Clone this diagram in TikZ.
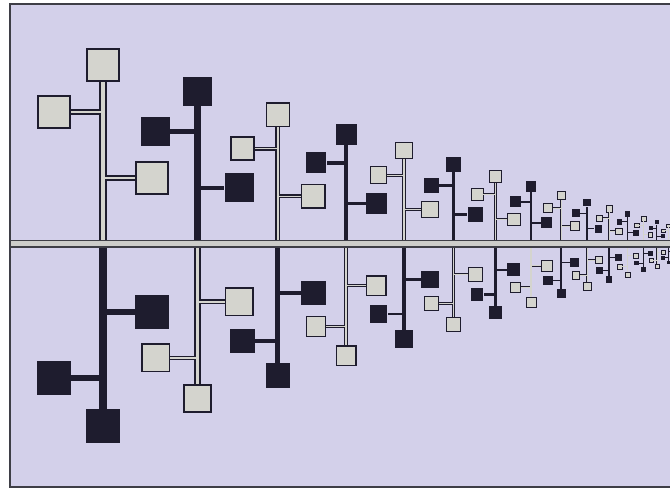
\documentclass[tikz,border=0pt]{standalone}
\usetikzlibrary{calc}
\definecolor{bgc}{RGB}{211,208,234}
\definecolor{lite}{RGB}{212,212,206}
\definecolor{dark}{RGB}{30,28,46}
\definecolor{framec}{RGB}{62,62,70}
\definecolor{axin}{RGB}{205,205,202}
\tikzset{
  lsq/.style={draw=dark, fill=lite, inner sep=0pt},
  dsq/.style={fill=dark, inner sep=0pt},
}
\newcommand{\halftree}[8]{%
  \pgfmathsetmacro{\yT}{244+#4*#5*#3}%
  \pgfmathsetmacro{\yL}{244+#4*#6*#3}%
  \pgfmathsetmacro{\yR}{244+#4*#7*#3}%
  \pgfmathsetmacro{\xL}{#2-49*#3}%
  \pgfmathsetmacro{\xR}{#2+49*#3}%
  \pgfmathsetmacro{\sql}{32*#3}%
  \pgfmathsetmacro{\sqd}{34*#3}%
  \pgfmathsetmacro{\olw}{max(2*#3,0.3)}%
  \pgfmathsetmacro{\stw}{7.2*#3}%
  \pgfmathsetmacro{\stin}{3.4*#3}%
  \pgfmathsetmacro{\brw}{5.5*#3}%
  \pgfmathsetmacro{\brin}{2.1*#3}%
  \coordinate (#1b) at (#2,244);
  \coordinate (#1lj) at (#2,\yL);
  \coordinate (#1rj) at (#2,\yR);
  \ifnum#8=0\relax
    \node[lsq, line width=\olw pt, minimum size=\sql pt] (#1T) at (#2,\yT) {};
    \node[lsq, line width=\olw pt, minimum size=\sql pt] (#1L) at (\xL,\yL) {};
    \node[lsq, line width=\olw pt, minimum size=\sql pt] (#1R) at (\xR,\yR) {};
    \draw[dark, line width=\stw pt] (#1b) -- (#1T);
    \draw[dark, line width=\brw pt] (#1lj) -- (#1L);
    \draw[dark, line width=\brw pt] (#1rj) -- (#1R);
    \draw[lite, line width=\stin pt] (#1b) -- (#1T);
    \draw[lite, line width=\brin pt] (#1lj) -- (#1L);
    \draw[lite, line width=\brin pt] (#1rj) -- (#1R);
  \else
    \node[dsq, minimum size=\sqd pt] (#1T) at (#2,\yT) {};
    \node[dsq, minimum size=\sqd pt] (#1L) at (\xL,\yL) {};
    \node[dsq, minimum size=\sqd pt] (#1R) at (\xR,\yR) {};
    \draw[dark, line width=\stw pt] (#1b) -- (#1T);
    \draw[dark, line width=\brw pt] (#1lj) -- (#1L);
    \draw[dark, line width=\brw pt] (#1rj) -- (#1R);
  \fi
}
\begin{document}
\begin{tikzpicture}[x=1pt,y=-1pt]
\useasboundingbox (0,0) rectangle (670,489);
\fill[white] (0,0) rectangle (670,489);
\fill[bgc] (10,4) rectangle (680,487);
\begin{scope}
\clip (10,4) rectangle (670,487);
\foreach \n in {1,...,18}{
  \pgfmathsetmacro{\s}{0.85^(\n-1)}
  \pgfmathsetmacro{\X}{103+630*(1-\s)}
  \ifodd\n\relax \def\ku{0}\def\kd{1}\else \def\ku{1}\def\kd{0}\fi
  \halftree{u\n}{\X}{\s}{-1}{179}{132}{66}{\ku}
  \halftree{d\n}{\X}{\s}{1}{182}{134}{68}{\kd}
}
\coordinate (axl) at (10,244);
\coordinate (axr) at (680,244);
\draw[framec, line width=8.5pt] (axl) -- (axr);
\draw[axin, line width=5pt] (axl) -- (axr);
\end{scope}
\draw[framec, line width=1.8pt] (690,4) -- (10,4) -- (10,487) -- (690,487);
\end{tikzpicture}
\end{document}
